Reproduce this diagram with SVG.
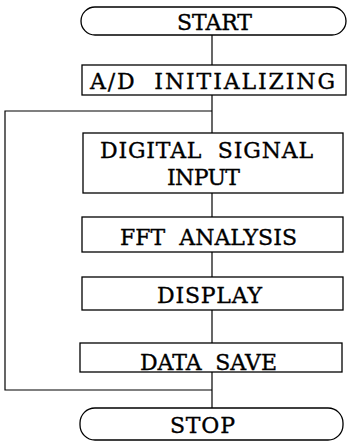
<svg xmlns="http://www.w3.org/2000/svg" width="347" height="442" viewBox="0 0 347 442">
  <style>
    .box { fill: #fff; stroke: #000; stroke-width: 1.3; }
    .wire { fill: none; stroke: #000; stroke-width: 1.2; }
    .lbl { font-family: "DejaVu Serif", "Liberation Serif", serif; font-size: 22px; fill: #000; stroke: #000; stroke-width: 0.35; text-anchor: start; }
  </style>
  <rect width="347" height="442" fill="#fff"/>

  <!-- connectors -->
  <g id="connectors">
    <line class="wire" x1="212" y1="35" x2="212" y2="65"/>
    <line class="wire" x1="212" y1="95" x2="212" y2="133"/>
    <line class="wire" x1="212" y1="193" x2="212" y2="217"/>
    <line class="wire" x1="212" y1="252" x2="212" y2="277"/>
    <line class="wire" x1="212" y1="310" x2="212" y2="343"/>
    <line class="wire" x1="212" y1="372" x2="212" y2="408"/>
    <!-- loop back from after DATA SAVE to before DIGITAL SIGNAL INPUT -->
    <polyline class="wire" points="212,390 5,390 5,111 212,111"/>
  </g>

  <g id="start">
    <rect class="box" x="81" y="7" width="265" height="28" rx="14" ry="14"/>
    <text class="lbl" x="177" y="30" textLength="75" lengthAdjust="spacing">START</text>
  </g>

  <g id="ad-init">
    <rect class="box" x="82" y="65" width="264" height="30"/>
    <text class="lbl" x="90" y="89" textLength="245" lengthAdjust="spacing">A/D&#160; INITIALIZING</text>
  </g>

  <g id="digital-input">
    <rect class="box" x="83" y="133" width="260" height="60"/>
    <text class="lbl" x="100" y="158" textLength="213" lengthAdjust="spacing">DIGITAL&#160; SIGNAL</text>
    <text class="lbl" x="167" y="185" textLength="73" lengthAdjust="spacing">INPUT</text>
  </g>

  <g id="fft">
    <rect class="box" x="82" y="217" width="261" height="35"/>
    <text class="lbl" x="120" y="245" textLength="177" lengthAdjust="spacing">FFT&#160; ANALYSIS</text>
  </g>

  <g id="display">
    <rect class="box" x="82" y="277" width="261" height="33"/>
    <text class="lbl" x="157" y="303" textLength="105" lengthAdjust="spacing">DISPLAY</text>
  </g>

  <g id="data-save">
    <rect class="box" x="80" y="343" width="262" height="29"/>
    <text class="lbl" x="140" y="370" textLength="137" lengthAdjust="spacing">DATA&#160; SAVE</text>
  </g>

  <g id="stop">
    <rect class="box" x="80" y="408" width="263" height="32" rx="15" ry="15"/>
    <text class="lbl" x="170" y="433" textLength="65" lengthAdjust="spacing">STOP</text>
  </g>
</svg>
